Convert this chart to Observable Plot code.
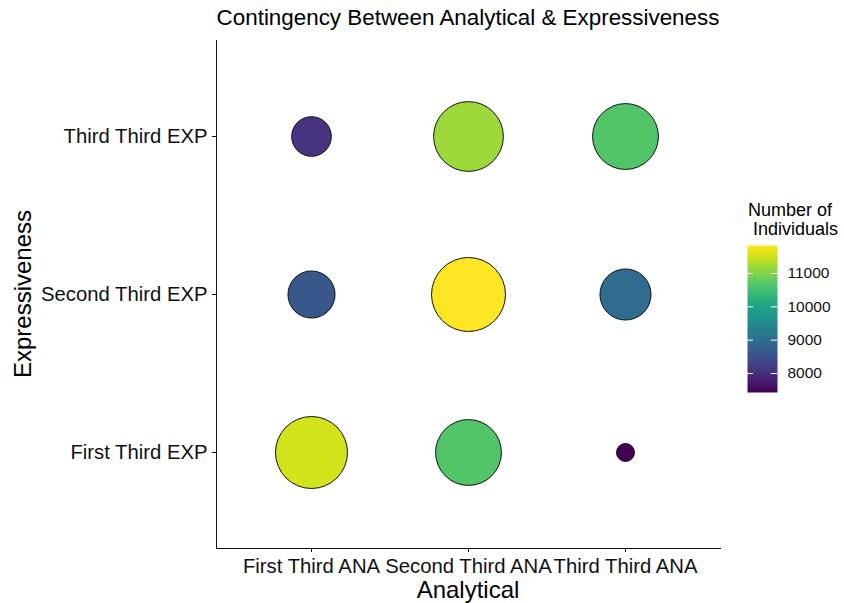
<!DOCTYPE html>
<html><head><meta charset="utf-8">
<script src="https://cdn.jsdelivr.net/npm/d3@7"></script>
<script src="https://cdn.jsdelivr.net/npm/@observablehq/plot@0.6"></script>
<style>
body{margin:0;background:#fff;font-family:"Liberation Sans",Arial,sans-serif;}
#wrap{position:relative;width:844px;height:603px;overflow:hidden;}
.t{position:absolute;color:#000;white-space:pre;line-height:1;}
#wrap svg{position:absolute;}
</style></head><body><div id="wrap"></div>
<script>
const analytical = ["First Third ANA", "Second Third ANA", "Third Third ANA"];
const expressiveness = ["First Third EXP", "Second Third EXP", "Third Third EXP"];
// counts per expressiveness row, in analytical order
const countsFirstEXP  = [11530, 10650, 7430];
const countsSecondEXP = [8620, 11840, 8970];
const countsThirdEXP  = [8090, 11200, 10650];
const legendTicks = [8000, 9000, 10000, 11000];

const rows = [countsFirstEXP, countsSecondEXP, countsThirdEXP];
const data = [];
rows.forEach((vals, i) => vals.forEach((n, j) => data.push({ana: analytical[j], exp: expressiveness[i], n})));
const [vmin, vmax] = d3.extent(data, d => d.n);

const font = "Liberation Sans, Arial, sans-serif";
const wrap = document.getElementById("wrap");

const main = Plot.plot({
  width: 844, height: 603,
  marginLeft: 216, marginRight: 124, marginTop: 40, marginBottom: 55,
  style: {fontFamily: font, fontSize: "20.3px", color: "#111", background: "white", overflow: "visible"},
  x: {type: "point", domain: analytical, padding: 0.6, label: null, tickSize: 4, tickPadding: 6, line: true},
  y: {type: "point", domain: expressiveness, reverse: true, padding: 0.6, label: null, tickSize: 4, tickPadding: 5, line: true},
  color: {type: "linear", scheme: "viridis", domain: [vmin, vmax]},
  r: {type: "sqrt", transform: v => v - vmin, domain: [0, vmax - vmin], range: [9, 37]},
  marks: [
    Plot.dot(data, {x: "ana", y: "exp", r: "n", fill: "n", stroke: "#111", strokeWidth: 1})
  ]
});
main.style.left = "0px"; main.style.top = "0px";
wrap.appendChild(main);

const legend = Plot.plot({
  width: 90, height: 147,
  marginLeft: 0, marginRight: 60, marginTop: 0, marginBottom: 0,
  style: {fontFamily: font, fontSize: "15.5px", color: "#111", overflow: "visible"},
  x: {domain: [0, 1], axis: null},
  y: {domain: [vmin, vmax], axis: null},
  color: {type: "linear", scheme: "viridis", domain: [vmin, vmax]},
  marks: [
    Plot.raster({fill: (x, y) => y, x1: 0, x2: 1, y1: vmin, y2: vmax}),
    Plot.ruleY(legendTicks, {x1: 0, x2: 0.2, stroke: "white", strokeWidth: 1}),
    Plot.ruleY(legendTicks, {x1: 0.8, x2: 1, stroke: "white", strokeWidth: 1}),
    Plot.axisY(legendTicks, {anchor: "right", tickSize: 0, tickPadding: 10, tickFormat: d => String(d), label: null})
  ]
});
legend.style.left = "747px"; legend.style.top = "245px";
wrap.appendChild(legend);

function addText(txt, fs, left, baseline, extra) {
  const d = document.createElement("div");
  d.className = "t";
  d.textContent = txt;
  d.style.fontSize = fs + "px";
  d.style.left = left + "px";
  d.style.top = (baseline - 0.8465 * fs) + "px";
  if (extra) Object.assign(d.style, extra);
  wrap.appendChild(d);
  return d;
}
addText("Contingency Between Analytical & Expressiveness", 22.4, 468, 26, {transform: "translateX(-50%)"});
addText("Analytical", 24, 468, 598, {transform: "translateX(-50%)"});
const yl = document.createElement("div");
yl.className = "t"; yl.textContent = "Expressiveness";
Object.assign(yl.style, {fontSize: "24px", left: "23px", top: "294px", height: "24px", transform: "translate(-50%,-50%) rotate(-90deg)"});
wrap.appendChild(yl);
addText("Number of", 18, 748, 216);
addText(" Individuals", 18, 748, 235);
</script>
</body></html>
